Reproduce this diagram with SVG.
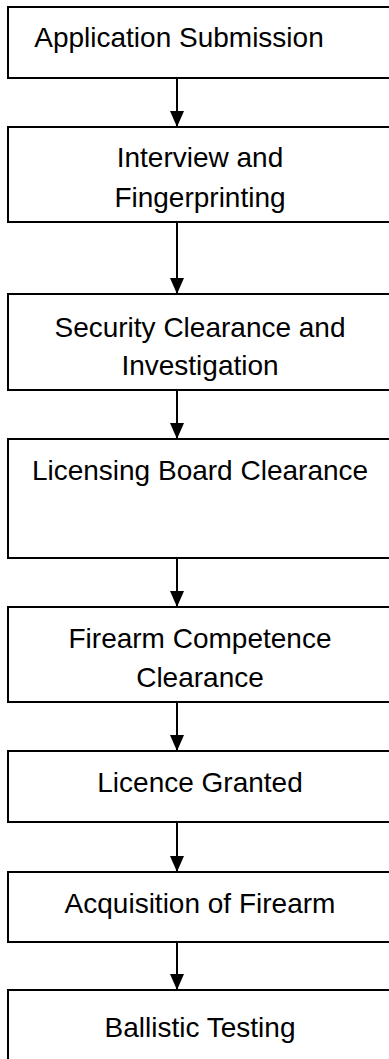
<svg xmlns="http://www.w3.org/2000/svg" width="389" height="1059" viewBox="0 0 389 1059">
<style>
.box{fill:#fff;stroke:#000;stroke-width:2}
.t{font-family:"Liberation Sans",Arial,sans-serif;font-size:28px;fill:#000;text-anchor:middle}
.c{stroke:#000;stroke-width:2;fill:none}
</style>
<defs>
<marker id="ah" viewBox="0 0 16 14" refX="16" refY="7" markerWidth="16" markerHeight="14" markerUnits="userSpaceOnUse" orient="auto">
<path d="M0,0 L16,7 L0,14 z" fill="#000"/>
</marker>
</defs>
<rect width="389" height="1059" fill="#fff"/>
<g id="n1"><rect class="box" x="8" y="7" width="384" height="71"/><text class="t" x="179" y="47">Application Submission</text></g>
<g id="n2"><rect class="box" x="8" y="127" width="384" height="95"/><text class="t" x="200" y="167">Interview and</text><text class="t" x="200" y="207">Fingerprinting</text></g>
<g id="n3"><rect class="box" x="8" y="294" width="384" height="96"/><text class="t" x="200" y="337">Security Clearance and</text><text class="t" x="200" y="375">Investigation</text></g>
<g id="n4"><rect class="box" x="8" y="439" width="384" height="119"/><text class="t" x="200" y="480">Licensing Board Clearance</text></g>
<g id="n5"><rect class="box" x="8" y="607" width="384" height="95"/><text class="t" x="200" y="648">Firearm Competence</text><text class="t" x="200" y="687">Clearance</text></g>
<g id="n6"><rect class="box" x="8" y="751" width="384" height="71"/><text class="t" x="200" y="792">Licence Granted</text></g>
<g id="n7"><rect class="box" x="8" y="872" width="384" height="70"/><text class="t" x="200" y="913">Acquisition of Firearm</text></g>
<g id="n8"><rect class="box" x="8" y="990" width="384" height="80"/><text class="t" x="200" y="1037">Ballistic Testing</text></g>
<g id="connectors">
<line class="c" x1="177" y1="78" x2="177" y2="127" marker-end="url(#ah)"/>
<line class="c" x1="177" y1="222" x2="177" y2="294" marker-end="url(#ah)"/>
<line class="c" x1="177" y1="390" x2="177" y2="439" marker-end="url(#ah)"/>
<line class="c" x1="177" y1="558" x2="177" y2="607" marker-end="url(#ah)"/>
<line class="c" x1="177" y1="702" x2="177" y2="751" marker-end="url(#ah)"/>
<line class="c" x1="177" y1="822" x2="177" y2="872" marker-end="url(#ah)"/>
<line class="c" x1="177" y1="942" x2="177" y2="990" marker-end="url(#ah)"/>
</g>
</svg>
